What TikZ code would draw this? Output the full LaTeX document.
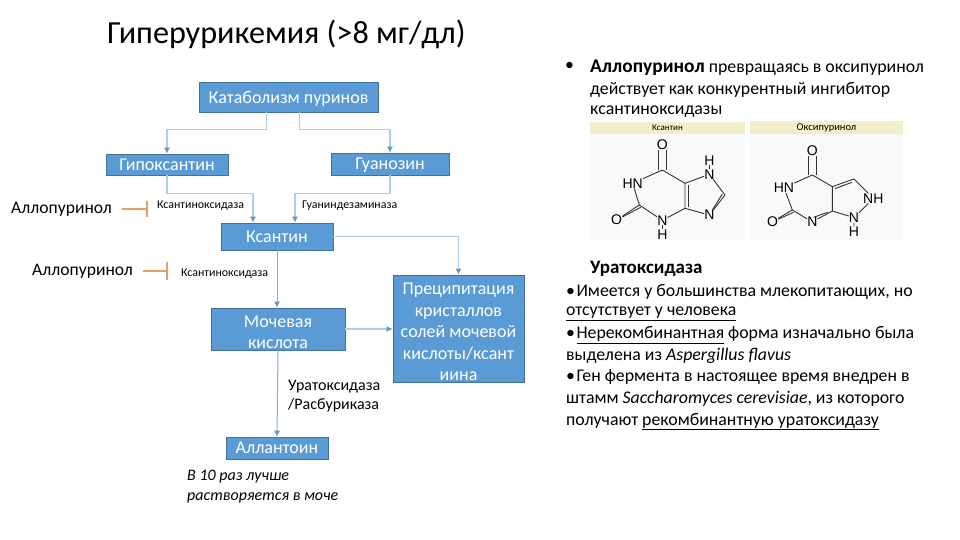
\documentclass[tikz,border=0pt]{standalone}
\usepackage{fontspec}
\setmainfont{Carlito}
\usetikzlibrary{arrows.meta}
\usepackage{xcolor}
\definecolor{boxblue}{RGB}{91, 155, 213}
\definecolor{boxedge}{RGB}{65, 113, 156}
\definecolor{flowblue}{RGB}{175, 205, 230}
\definecolor{tipblue}{RGB}{105, 150, 200}
\definecolor{inhibit}{RGB}{237, 155, 95}
\definecolor{panelhead}{RGB}{240, 239, 200}
\definecolor{panelbody}{RGB}{249, 249, 249}
\tikzset{
  stagebox/.style={draw=boxedge, fill=boxblue, text=white, font=\fontsize{18}{21.6}\selectfont, align=center, inner sep=0pt, line width=0.6pt, text depth=-2pt},
  flowline/.style={flowblue, line width=1.3pt, -{Latex[length=6pt, width=6pt, color=tipblue]}},
  inhibline/.style={inhibit, line width=1.3pt},
  enzyme/.style={anchor=west, inner sep=0pt, font=\fontsize{11.9}{13}\selectfont},
  drugname/.style={anchor=west, inner sep=0pt, font=\fontsize{17.6}{20}\selectfont},
  textline/.style={anchor=west, inner sep=0pt, font=\fontsize{17.8}{20}\selectfont},
  atom/.style={inner sep=0pt, font=\fontsize{14}{15}\selectfont\fontspec{Liberation Sans}},
  bond/.style={line width=0.9pt, black!80},
  panelhd/.style={fill=panelhead, inner sep=0pt, font=\fontsize{9}{10}\selectfont},
}
\newcommand{\drugbold}[1]{{\fontsize{19.4}{20}\selectfont\bfseries #1}}
\newcommand{\topstrut}{\rule{0pt}{18.5pt}}

\begin{document}
\begin{tikzpicture}[x=1pt, y=-1pt]
  \useasboundingbox[fill=white] (0,0) rectangle (960,540);
  \node[anchor=west, inner sep=0pt, font=\fontsize{32.2}{36}\selectfont] (title) at (107,34) {Гиперурикемия (>8 мг/дл)};
  % boxes
  \node[stagebox, minimum width=179pt, minimum height=30pt] (catabolism) at (288.5,97) {Катаболизм пуринов};
  \node[stagebox, minimum width=122pt, minimum height=21pt] (hypox) at (167,164.5) {Гипоксантин};
  \node[stagebox, minimum width=118pt, minimum height=22pt] (guanosine) at (390,164) {Гуанозин};
  \node[stagebox, minimum width=112pt, minimum height=27pt] (xanthine) at (277,236.5) {Ксантин};
  \node[stagebox, minimum width=134pt, minimum height=42pt, text depth=] (uric) at (278,329) {\topstrut Мочевая\\кислота};
  \node[stagebox, minimum width=131pt, minimum height=107pt, text depth=] (precip) at (458.5,328.5) {\topstrut Преципитация\\кристаллов\\солей мочевой\\кислоты/ксант\\иина};
  \node[stagebox, minimum width=102pt, minimum height=22pt] (allantoin) at (277,448) {Аллантоин};
  % connectors
  \draw[flowline] ([xshift=-22pt]catabolism.south) -- ++(0,17) -| (hypox.north);
  \draw[flowline] ([xshift=11pt]catabolism.south) -- ++(0,17) -| (guanosine.north);
  \draw[flowline] (hypox.south) -- ++(0,18) -| ([xshift=-24pt]xanthine.north);
  \draw[flowline] (guanosine.south) -- ++(0,18) -| ([xshift=18pt]xanthine.north);
  \draw[flowline] (xanthine.east) -| (precip.north);
  \draw[flowline, boxblue!80, line width=1pt] (xanthine.south) -- (xanthine.south |- uric.north);
  \draw[flowline] (uric.east) -- (precip.west |- uric.east);
  \draw[flowline, boxblue!80, line width=1pt] (uric.south) -- (allantoin.north);
  % enzymes
  \node[enzyme] (oxidaseA) at (157,206) {Ксантиноксидаза};
  \node[enzyme] (deaminase) at (302,206) {Гуаниндезаминаза};
  \node[enzyme] (oxidaseB) at (181,274) {Ксантиноксидаза};
  \node[drugname] (drugA) at (11,209.5) {Аллопуринол};
  \node[drugname] (drugB) at (32,271) {Аллопуринол};
  \coordinate (barA) at (147,209);
  \coordinate (barB) at (167,271);
  \draw[inhibline] ([xshift=10pt]drugA.east |- barA) -- (barA);
  \draw[inhibline] ([shift={(0,-8)}]barA) -- ([shift={(0,8)}]barA);
  \draw[inhibline] ([xshift=10pt]drugB.east |- barB) -- (barB);
  \draw[inhibline] ([shift={(0,-9)}]barB) -- ([shift={(0,9)}]barB);
  \node[textline, align=left, font=\fontsize{16}{19.5}\selectfont] (rasb) at (288,396) {Уратоксидаза\\/Расбуриказа};
  \node[textline, align=left, font=\fontsize{16}{19.5}\selectfont\itshape] (note) at (187,486.5) {В 10 раз лучше\\растворяется в моче};
  % text on the right
  \node[textline] (bulletA) at (565,66) {•};
  \node[textline] (lineA) at (590,68) {\drugbold{Аллопуринол} превращаясь в оксипуринол};
  \node[textline] (lineB) at (590,89.5) {действует как конкурентный ингибитор};
  \node[textline] (lineC) at (590,111.5) {ксантиноксидазы};
  \node[textline, font=\fontsize{19}{20}\selectfont\bfseries] (urate) at (590,269) {Уратоксидаза};
  \node[textline] (lineD) at (566,292) {•\hspace{1.5pt}Имеется у большинства млекопитающих, но};
  \node[textline] (lineE) at (566,314) {\underline{отсутствует у человека}};
  \node[textline] (lineF) at (566,335) {•\hspace{1.5pt}\underline{Нерекомбинантная} форма изначально была};
  \node[textline] (lineG) at (566,356) {выделена из \textit{Aspergillus flavus}};
  \node[textline] (lineH) at (566,377) {•\hspace{1.5pt}Ген фермента в настоящее время внедрен в};
  \node[textline] (lineI) at (566,399) {штамм \textit{Saccharomyces cerevisiae}, из которого};
  \node[textline] (lineJ) at (566,421.5) {получают \underline{рекомбинантную уратоксидазу}};
  % panels
  \fill[panelbody] (590,122) rectangle (745,240);
  \fill[panelbody] (750,121) rectangle (903,240);
  \node[panelhd, minimum width=155pt, minimum height=12pt] (headA) at (667.5,128) {Ксантин};
  \node[panelhd, minimum width=153pt, minimum height=13pt, font=\fontsize{10.5}{11}\selectfont] (headB) at (826.5,127.5) {Оксипуринол};
  % xanthine
  \begin{scope}[shift={(580,115)}, x=0.3333pt, y=-0.3333pt]
    \node[atom] (aO) at (247,90) {O};
    \coordinate (aCsix) at (247,165);
    \node[atom] (aHN) at (158,205) {HN};
    \coordinate (aCtwo) at (178,270);
    \node[atom] (aOtwo) at (110,315) {O};
    \node[atom] (aN) at (247,316) {N};
    \node[atom] (aH) at (247,358) {H};
    \coordinate (aCfour) at (315,280);
    \coordinate (aCfive) at (315,205);
    \node[atom] (aNseven) at (388,178) {N};
    \node[atom] (aHseven) at (388,136) {H};
    \coordinate (aCeight) at (435,240);
    \node[atom] (aNnine) at (388,300) {N};
    \draw[bond] ([xshift=-4]aO.south) -- ([xshift=-4]aCsix);
    \draw[bond] ([xshift=4]aO.south) -- ([xshift=4]aCsix);
    \draw[bond] (aCsix) -- (aHN) (aHN) -- (aCtwo) (aCtwo) -- (aN) (aN) -- (aCfour);
    \draw[bond] (aCfour) -- (aCfive) (aCfive) -- (aCsix) (aCfive) -- (aNseven) (aNseven) -- (aCeight) (aNnine) -- (aCfour);
    \draw[bond] (aNseven) -- (aHseven);
    \draw[bond] (aN) -- (aH);
    \draw[bond] ([shift={(9,5)}]aCfive) -- ([shift={(9,-5)}]aCfour);
    \draw[bond] (aCtwo) -- (aOtwo);
    \draw[bond] ([shift={(4,7)}]aCtwo) -- ([shift={(4,7)}]aOtwo);
    \draw[bond] (aCeight) -- (aNnine);
    \draw[bond] ([shift={(-8,-3)}]aCeight) -- ([shift={(-8,-3)}]aNnine);
  \end{scope}
  % oxipurinol
  \begin{scope}[shift={(580,115)}, x=0.3333pt, y=-0.3333pt]
    \node[atom] (bO) at (697,108) {O};
    \coordinate (bCfour) at (697,180);
    \node[atom] (bHN) at (612,218) {HN};
    \coordinate (bCtwo) at (637,285);
    \node[atom] (bOtwo) at (578,320) {O};
    \node[atom] (bN) at (697,321) {N};
    \coordinate (bCa) at (757,288);
    \coordinate (bCb) at (757,215);
    \coordinate (bCc) at (822,192);
    \node[atom] (bNH) at (880,250) {NH};
    \node[atom] (bNtwo) at (822,308) {N};
    \node[atom] (bH) at (822,350) {H};
    \draw[bond] ([xshift=-4]bO.south) -- ([xshift=-4]bCfour);
    \draw[bond] ([xshift=4]bO.south) -- ([xshift=4]bCfour);
    \draw[bond] (bCfour) -- (bHN) (bHN) -- (bCtwo) (bCtwo) -- (bN) (bN) -- (bCa);
    \draw[bond] (bCa) -- (bCb) (bCb) -- (bCfour) (bCb) -- (bCc) (bCc) -- (bNH) (bNH) -- (bNtwo) (bNtwo) -- (bCa) (bNtwo) -- (bH);
    \draw[bond] ([shift={(-12,1)}]bN.north east) -- ([shift={(-14,4)}]bCa);
    \draw[bond] ([shift={(8,6)}]bCb) -- ([shift={(-6,10)}]bCc);
    \draw[bond] (bCtwo) -- (bOtwo);
    \draw[bond] ([shift={(4,7)}]bCtwo) -- ([shift={(4,7)}]bOtwo);
  \end{scope}
\end{tikzpicture}
\end{document}
